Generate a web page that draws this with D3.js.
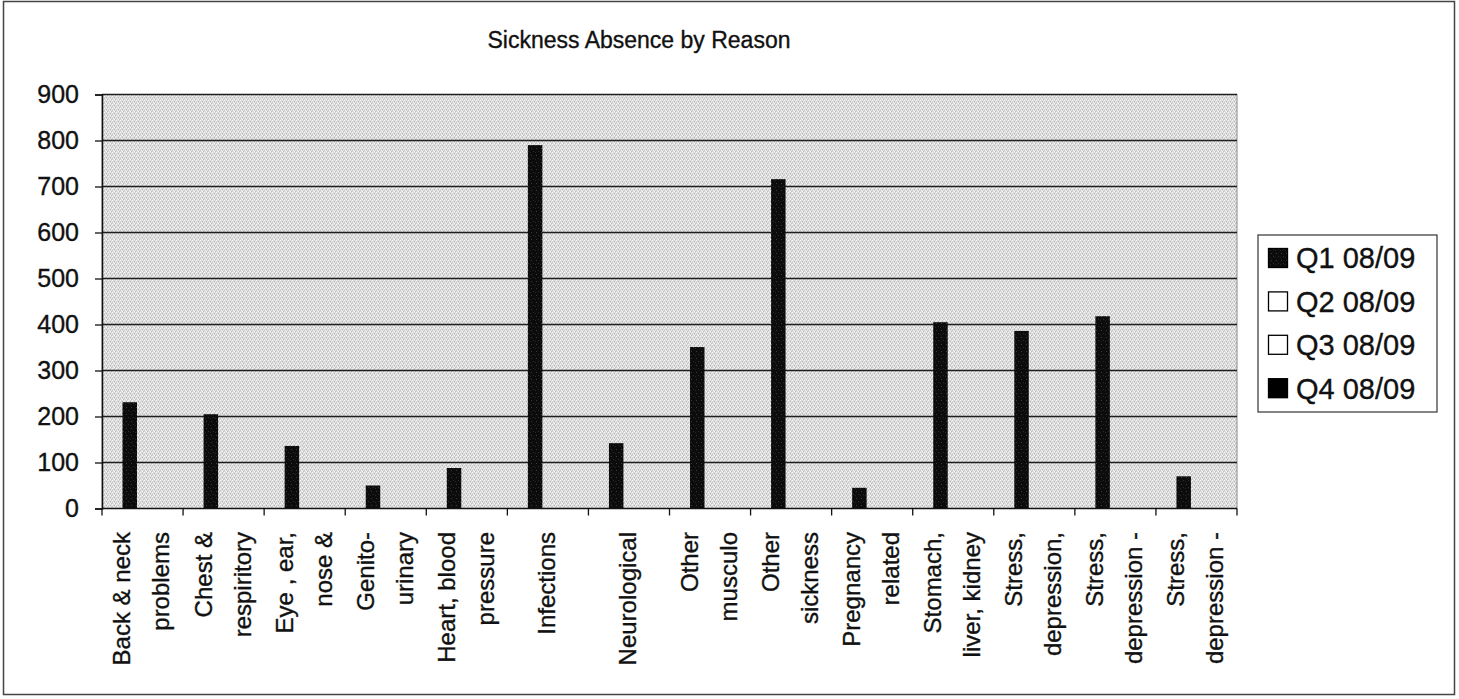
<!DOCTYPE html>
<html>
<head>
<meta charset="utf-8">
<script src="https://cdn.jsdelivr.net/npm/d3@7"></script>
<style>
  html, body { margin: 0; padding: 0; background: #fff; }
  svg { display: block; font-family: "Liberation Sans", Arial, sans-serif; }
  svg text { stroke: #111; stroke-width: 0.35px; }
</style>
</head>
<body>
<svg id="chart" width="1459" height="699"></svg>
<script>
// Absence reasons (each entry is the wrapped label, one string per line)
const categories = [
  ["Back & neck", "problems"],
  ["Chest &", "respiritory"],
  ["Eye , ear,", "nose &"],
  ["Genito-", "urinary"],
  ["Heart, blood", "pressure"],
  ["Infections"],
  ["Neurological"],
  ["Other", "musculo"],
  ["Other", "sickness"],
  ["Pregnancy", "related"],
  ["Stomach,", "liver, kidney"],
  ["Stress,", "depression,"],
  ["Stress,", "depression -"],
  ["Stress,", "depression -"]
];

const seriesNames = ["Q1 08/09", "Q2 08/09", "Q3 08/09", "Q4 08/09"];

// Days lost per quarter
const q1Values = [231, 205, 136, 50, 88, 790, 142, 351, 716, 45, 405, 386, 418, 70];
const q2Values = [0, 0, 0, 0, 0, 0, 0, 0, 0, 0, 0, 0, 0, 0];
const q3Values = [0, 0, 0, 0, 0, 0, 0, 0, 0, 0, 0, 0, 0, 0];
const q4Values = [0, 0, 0, 0, 0, 0, 0, 0, 0, 0, 0, 0, 0, 0];

const yTicks = [0, 100, 200, 300, 400, 500, 600, 700, 800, 900];

const seriesValues = [q1Values, q2Values, q3Values, q4Values];
const keys = categories.map((c, i) => "c" + i);

const svg = d3.select("#chart");
const defs = svg.append("defs");

// Dithered grey for the plot area
const bgPat = defs.append("pattern")
  .attr("id", "plotTex").attr("patternUnits", "userSpaceOnUse")
  .attr("width", 4).attr("height", 4);
bgPat.append("rect").attr("width", 4).attr("height", 4).attr("fill", "#dadada");
[[0,0,"#f6f6f6"],[2,1,"#b4b4b4"],[1,2,"#f0f0f0"],[3,3,"#c0c0c0"],[2,3,"#fafafa"],[0,2,"#c8c8c8"],[3,1,"#eeeeee"]]
  .forEach(([x, y, c]) => bgPat.append("rect").attr("x", x).attr("y", y)
    .attr("width", 1).attr("height", 1).attr("fill", c));

// Speckled near-black for the Q1 series
const q1Pat = defs.append("pattern")
  .attr("id", "q1Tex").attr("patternUnits", "userSpaceOnUse")
  .attr("width", 5).attr("height", 7);
q1Pat.append("rect").attr("width", 5).attr("height", 7).attr("fill", "#0c0c0c");
[[1,1,"#3a3a3a"],[3,4,"#2c2c2c"],[0,5,"#262626"]]
  .forEach(([x, y, c]) => q1Pat.append("rect").attr("x", x).attr("y", y)
    .attr("width", 1).attr("height", 1).attr("fill", c));

const seriesFill = ["url(#q1Tex)", "#ffffff", "#ffffff", "#000000"];

// Outer chart frame
svg.append("rect")
  .attr("x", 3.5).attr("y", 1.5).attr("width", 1451).attr("height", 693)
  .attr("fill", "none").attr("stroke", "#444").attr("stroke-width", 1.5);

const plot = { left: 102, right: 1237, top: 94.5, bottom: 508.5 };

const x0 = d3.scaleBand().domain(keys).range([plot.left, plot.right]).padding(0);
const bw = x0.bandwidth();
const x1 = d3.scaleBand().domain(seriesNames).range([bw * 0.253, bw * 0.968]).padding(0);
const y = d3.scaleLinear().domain([0, 900]).range([plot.bottom, plot.top]);

// Plot area
svg.append("rect")
  .attr("x", plot.left).attr("y", plot.top)
  .attr("width", plot.right - plot.left).attr("height", plot.bottom - plot.top)
  .attr("fill", "url(#plotTex)").attr("stroke", "#8a8a8a").attr("stroke-width", 1);

// Horizontal gridlines
svg.append("g").selectAll("line").data(yTicks.filter(t => t > 0)).join("line")
  .attr("x1", plot.left).attr("x2", plot.right)
  .attr("y1", d => y(d)).attr("y2", d => y(d))
  .attr("stroke", "#1e1e1e").attr("stroke-width", 1.4);

// Bars
const barG = svg.append("g");
seriesNames.forEach((s, si) => {
  barG.append("g").selectAll("rect")
    .data(seriesValues[si].map((v, i) => ({ key: keys[i], v })))
    .join("rect")
    .attr("x", d => x0(d.key) + x1(s))
    .attr("width", x1.bandwidth())
    .attr("y", d => y(d.v))
    .attr("height", d => y(0) - y(d.v))
    .attr("fill", seriesFill[si]);
});

// Y axis
const yAxis = svg.append("g")
  .attr("transform", `translate(${plot.left},0)`)
  .call(d3.axisLeft(y).tickValues(yTicks).tickSize(7).tickPadding(16).tickFormat(d3.format("d")));
yAxis.select(".domain").attr("stroke", "#111").attr("stroke-width", 1.5);
yAxis.selectAll(".tick line").attr("stroke", "#111").attr("stroke-width", 1.3);
yAxis.selectAll(".tick text")
  .attr("font-size", 25).attr("fill", "#111")
  .attr("font-family", "Liberation Sans, Arial, sans-serif");

// X axis with ticks at band boundaries
const xAxis = svg.append("g").attr("transform", `translate(0,${plot.bottom})`);
xAxis.append("line")
  .attr("x1", plot.left).attr("x2", plot.right).attr("y1", 0).attr("y2", 0)
  .attr("stroke", "#111").attr("stroke-width", 1.5);
const boundaries = keys.map(k => x0(k)).concat([plot.right]);
xAxis.selectAll("line.tk").data(boundaries).join("line").attr("class", "tk")
  .attr("x1", d => d).attr("x2", d => d).attr("y1", 0).attr("y2", 7)
  .attr("stroke", "#111").attr("stroke-width", 1.3);

// Rotated, wrapped category labels
const lineGap = 39;
const labelG = svg.append("g");
categories.forEach((lines, i) => {
  const cx = x0(keys[i]) + bw / 2;
  const n = lines.length;
  lines.forEach((t, li) => {
    const off = (li - (n - 1) / 2) * lineGap;
    labelG.append("text")
      .attr("transform", `translate(${cx + off - 1},532) rotate(-90)`)
      .attr("text-anchor", "end")
      .attr("dy", "0.35em")
      .attr("font-size", 24).attr("fill", "#111")
      .text(t);
  });
});

// Title
svg.append("text")
  .attr("x", 639).attr("y", 48).attr("text-anchor", "middle")
  .attr("font-size", 23).attr("fill", "#111")
  .text("Sickness Absence by Reason");

// Legend
const legend = svg.append("g");
legend.append("rect")
  .attr("x", 1258).attr("y", 235).attr("width", 179).attr("height", 177)
  .attr("fill", "#fff").attr("stroke", "#333").attr("stroke-width", 1.2);
seriesNames.forEach((s, i) => {
  const cy = 258 + i * 43.4;
  legend.append("rect")
    .attr("x", 1268.5).attr("y", cy - 9.5).attr("width", 19).attr("height", 19)
    .attr("fill", seriesFill[i]).attr("stroke", "#000").attr("stroke-width", 1.3);
  legend.append("text")
    .attr("x", 1296).attr("y", cy).attr("dy", "0.36em")
    .attr("font-size", 29).attr("fill", "#111")
    .text(s);
});
</script>
</body>
</html>
